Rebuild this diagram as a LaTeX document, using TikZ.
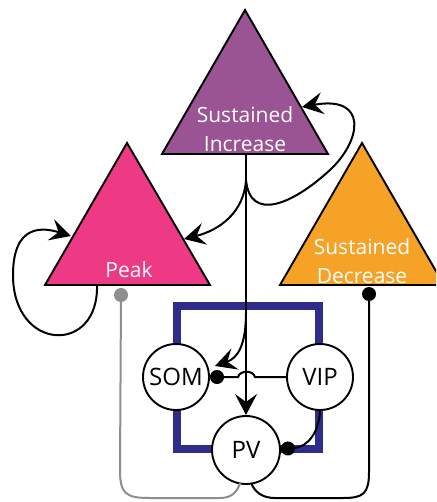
\documentclass[tikz,border=0pt]{standalone}
\usepackage{fontspec}
\setmainfont{Open Sans}
\usetikzlibrary{arrows.meta}
\definecolor{cpurple}{HTML}{9A5393}
\definecolor{cpink}{HTML}{EE3A84}
\definecolor{corange}{HTML}{F6A227}
\definecolor{cblue}{HTML}{302C8C}
\definecolor{cgray}{HTML}{8E8E8E}
\tikzset{
  tri/.style={draw=black, line width=1.9pt, line join=miter},
  tlabel/.style={text=white, font=\fontsize{21}{29}\selectfont, align=center, inner sep=0pt},
  cell/.style={circle, draw=black, line width=1.9pt, fill=white, minimum size=66pt, inner sep=0pt, font=\fontsize{24}{26}\selectfont},
  conn/.style={line width=2pt, draw=black},
  arr/.style={conn, -{Stealth[length=21pt,width=22pt,inset=8pt]}},
  inh/.style={conn, -{Circle[length=14pt]}},
  dot/.style={circle, fill=#1, minimum size=14pt, inner sep=0pt},
}
\begin{document}
\begin{tikzpicture}[x=1pt,y=-1pt]
\useasboundingbox (0,0) rectangle (436,502);
\clip (0,0) rectangle (436,502);
% triangles
\coordinate (siapex) at (245,10);
\coordinate (sil) at (162,154);
\coordinate (sir) at (328,154);
\coordinate (sibase) at (246,154);
\filldraw[tri, fill=cpurple] (siapex) -- (sil) -- (sir) -- cycle;
\coordinate (pkapex) at (127,143);
\coordinate (pkl) at (45,285);
\coordinate (pkr) at (210,285);
\filldraw[tri, fill=cpink] (pkapex) -- (pkl) -- (pkr) -- cycle;
\coordinate (sdapex) at (362,143);
\coordinate (sdl) at (280,285);
\coordinate (sdr) at (444,285);
\filldraw[tri, fill=corange] (sdapex) -- (sdl) -- (sdr) -- cycle;
\node[tlabel] (silab) at (245,129) {Sustained\\Increase};
\node[tlabel] (pklab) at (129,270) {Peak};
\node[tlabel] (sdlab) at (362,261) {Sustained\\Decrease};
% blue box
\draw[cblue, line width=7.5pt, line join=miter] (177,306) rectangle (319,449);
% circles
\node[cell] (som) at (176,377) {SOM};
\node[cell] (vip) at (320,377) {VIP};
\node[cell, minimum size=68pt] (pv) at (246,450) {PV};
% connectors
\draw[arr] (sibase) -- (246,415);
\draw[arr] (246,180) .. controls (244,212) and (220,230) .. (184,239);
\draw[arr] (246,180) .. controls (250,222) and (292,205) .. (330,170) .. controls (362,140) and (368,95) .. (302,107);
\draw[arr] (246,312) .. controls (246,345) and (238,358) .. (215,366);
\coordinate (pkout) at (97,285);
\draw[arr] (pkout) .. controls (99,355) and (13,352) .. (13,275) .. controls (13,222) and (45,228) .. (71,236);
\draw[inh] (vip.west) -- (255,377) .. controls (253,370) and (240,370) .. (238,377) -- (210,377);
\draw[inh] (vip.south) .. controls (319,432) and (308,447) .. (281,449);
\coordinate (pkdot) at (121,295);
\coordinate (sddot) at (369,294);
\draw[cgray, line width=2pt] (pkdot) -- (120,470) .. controls (120,494) and (126,498) .. (150,498) -- (220,498) .. controls (232,498) and (237,492) .. (240,483);
\draw[conn] (sddot) -- (369,472) .. controls (369,494) and (363,498) .. (343,498) -- (275,498) .. controls (262,498) and (255,492) .. (251,483);
\node[dot=cgray] (gdot) at (pkdot) {};
\node[dot=black] (bdot) at (sddot) {};
\end{tikzpicture}
\end{document}
